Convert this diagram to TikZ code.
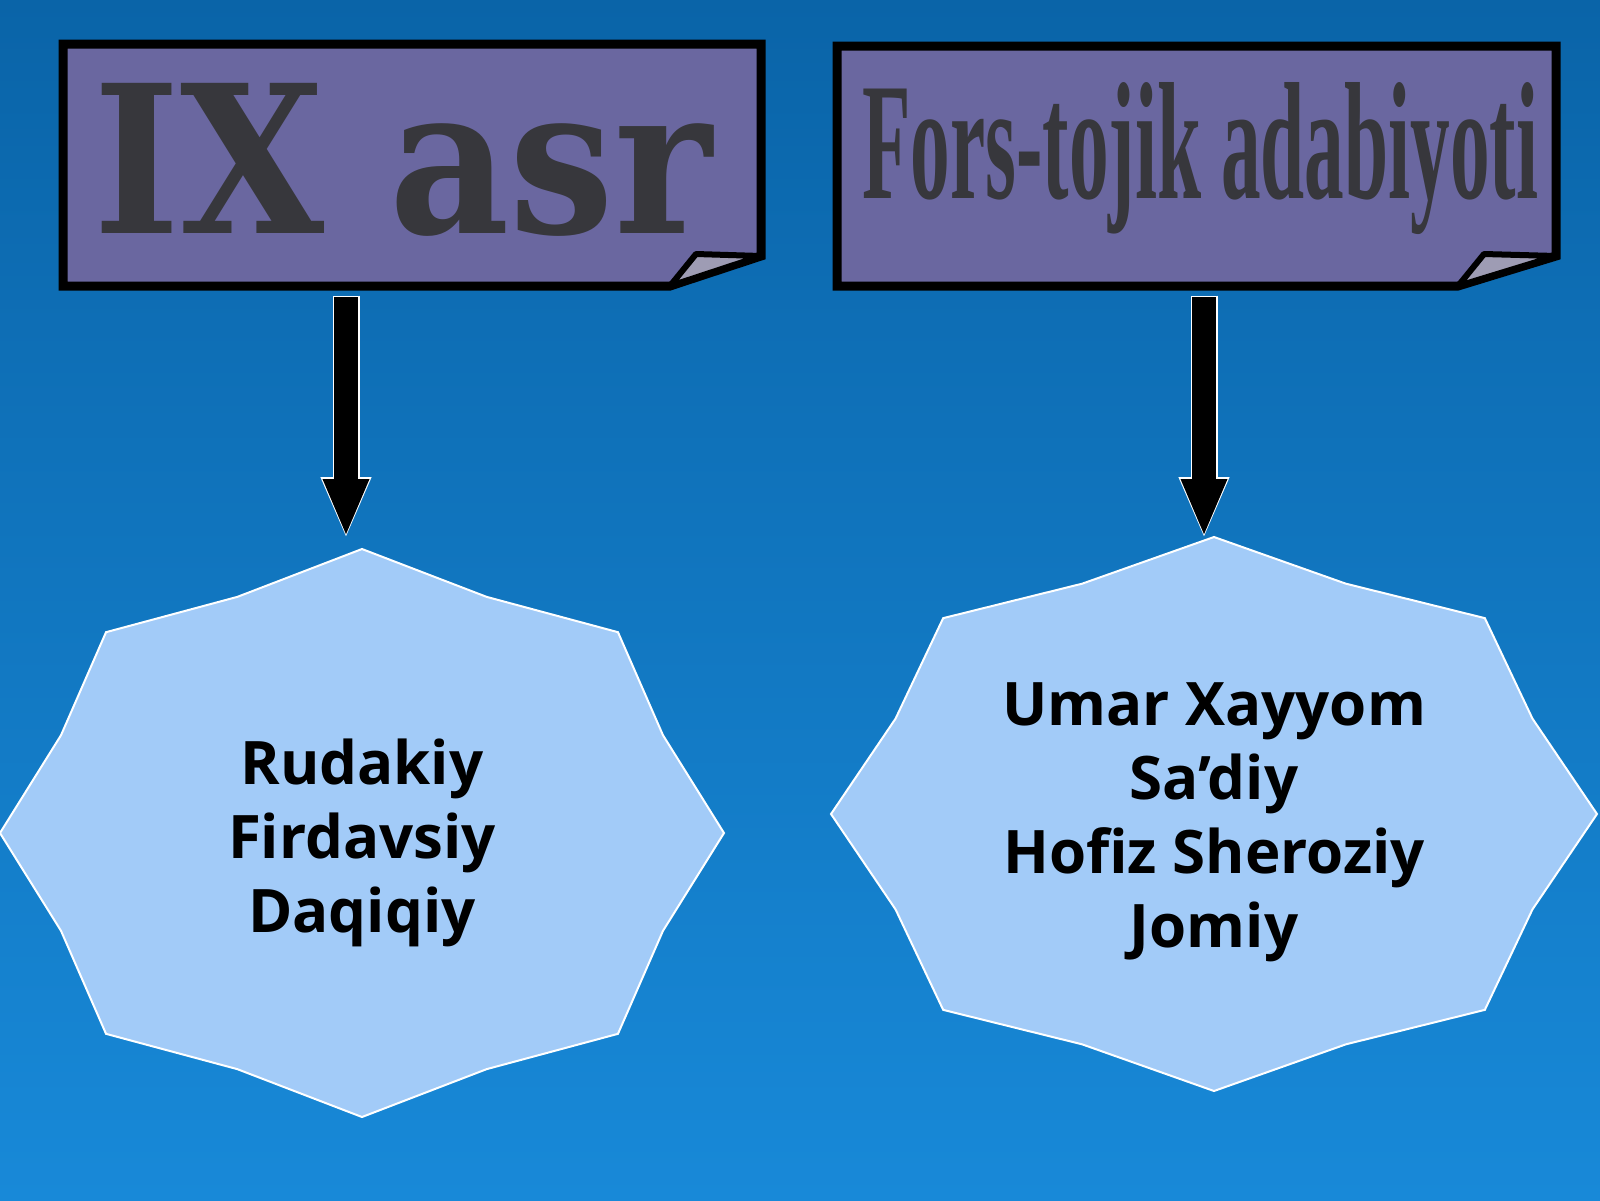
\documentclass[tikz,border=0pt]{standalone}
\usepackage{fontspec}
\usepackage{graphicx}
\usetikzlibrary{arrows.meta}
\newfontfamily\namefont{Open Sans}
\newfontfamily\slabfont{DejaVu Serif}
\newfontfamily\narrowfont{Liberation Serif}
\definecolor{bgtop}{RGB}{10,100,168}
\definecolor{bgmid}{RGB}{12,110,182}
\definecolor{bgbot}{RGB}{24,137,216}
\definecolor{boxfill}{RGB}{106,103,160}
\definecolor{foldfill}{RGB}{158,156,180}
\definecolor{titleink}{RGB}{55,55,60}
\definecolor{starfill}{RGB}{162,203,248}
\begin{document}
\begin{tikzpicture}[x=1pt,y=-1pt,
    titlebox/.style={draw=black,fill=boxfill,line width=9pt,line join=miter},
    foldflap/.style={draw=black,fill=foldfill,line width=6pt,line join=round},
    titletext/.style={inner sep=0pt,text=titleink},
    arrowedge/.style={line width=27pt,white,-{Triangle[width=46pt,length=62pt]}},
    arrowbody/.style={line width=24pt,black,-{Triangle[width=42pt,length=58pt]}},
    starshape/.style={fill=starfill,draw=white,line width=2pt},
    namelist/.style={align=center,inner sep=0pt,text=black,font=\namefont\bfseries\fontsize{60}{74}\selectfont}]
    \useasboundingbox (0,0) rectangle (1600,1200);
    \shade[top color=bgtop,middle color=bgmid,bottom color=bgbot] (0,0) rectangle (1600,1200);

    % title boxes with folded corner
    \draw[titlebox] (63,44) -- (761,44) -- (761,256) -- (670,286) -- (63,286) -- cycle;
    \draw[foldflap] (696,254) -- (761,256) -- (670,286) -- cycle;
    \draw[titlebox] (837,46) -- (1556,46) -- (1556,256) -- (1458,286) -- (837,286) -- cycle;
    \draw[foldflap] (1484,254) -- (1556,256) -- (1458,286) -- cycle;

    \node[titletext,anchor=base west] (ix) at (93,233)
        {\resizebox{618pt}{150pt}{\slabfont\bfseries IX asr}};
    \node[titletext,anchor=base west] (fors) at (862,198)
        {\resizebox{676pt}{116pt}{\narrowfont\bfseries Fors-tojik adabiyoti}};

    % stars
    \begin{scope}[shift={(362,833)},x=362pt,y=284pt]
        \draw[starshape] (90:1) \foreach \k in {1,...,15}{ -- ({90+22.5*\k}:{1-0.1*mod(\k,2)}) } -- cycle;
    \end{scope}
    \begin{scope}[shift={(1214,814)},x=383pt,y=277pt]
        \draw[starshape] (90:1) \foreach \k in {1,...,15}{ -- ({90+22.5*\k}:{1-0.1*mod(\k,2)}) } -- cycle;
    \end{scope}

    \node[namelist] (early) at (362,843) {Rudakiy\\Firdavsiy\\Daqiqiy};
    \node[namelist] (late) at (1214,822) {Umar Xayyom\\Sa’diy\\Hofiz Sheroziy\\Jomiy};

    % arrows
    \coordinate (ixfoot) at (346,297);
    \coordinate (ixtip) at (346,537);
    \coordinate (forsfoot) at (1204,297);
    \coordinate (forstip) at (1204,537);
    \draw[arrowedge] ([yshift=1.5pt]ixfoot) -- ([yshift=-2pt]ixtip);
    \draw[arrowbody] (ixfoot) -- (ixtip);
    \draw[arrowedge] ([yshift=1.5pt]forsfoot) -- ([yshift=-2pt]forstip);
    \draw[arrowbody] (forsfoot) -- (forstip);
\end{tikzpicture}
\end{document}
